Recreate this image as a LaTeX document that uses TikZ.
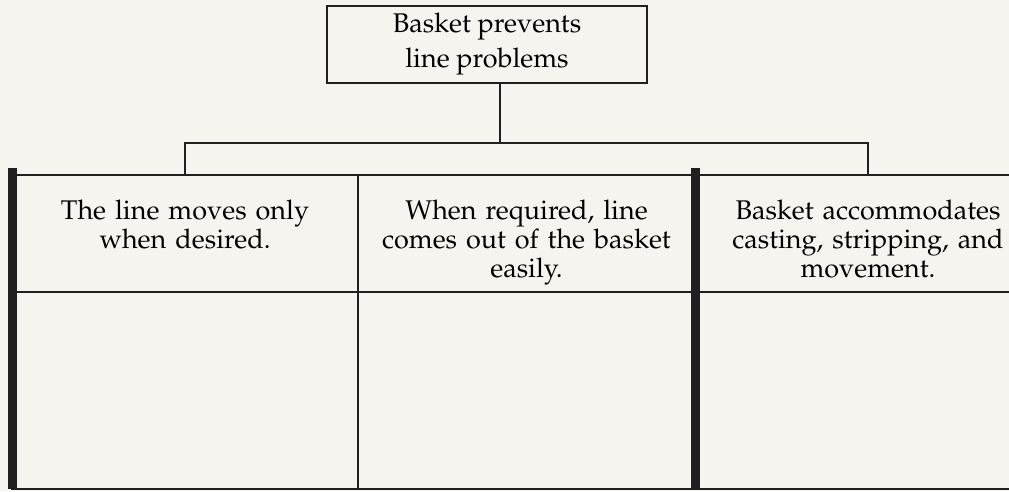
\documentclass[tikz,border=0pt]{standalone}
\usepackage[T1]{fontenc}
\usepackage{mathpazo}
\usetikzlibrary{positioning, calc}
\definecolor{inkgray}{HTML}{231F20}
\definecolor{paper}{HTML}{F5F4EE}
\tikzset{
	goalbox/.style={rectangle, draw=inkgray, line width=2.4pt, minimum width=320pt, minimum height=77pt, inner sep=0pt, align=center, font=\fontsize{27}{35}\selectfont},
	cellbox/.style={rectangle, draw=inkgray, line width=2pt, minimum width=337pt, minimum height=117pt, inner sep=0pt, outer sep=0pt},
	lowbox/.style={cellbox, minimum height=197pt},
	celltext/.style={align=center, inner sep=0pt, text width=330pt, font=\fontsize{27}{29}\selectfont},
	link/.style={draw=inkgray, line width=2.2pt, line join=miter},
	heavy/.style={draw=inkgray, line width=9pt}
}
\begin{document}
\begin{tikzpicture}[x=1pt, y=-1pt]
		\fill[paper] (0,0) rectangle (1009,491);
		\useasboundingbox (0,0) rectangle (1009,491);
		% Objetivo
		\node (goal) [goalbox] at (487,44.5) {Basket prevents\\line problems};
		
		% Tabla
		\node (c1) [cellbox, minimum width=346pt] at (185,233.5) {};
		\node (c2) [cellbox, right=0pt of c1] {};
		\node (c3) [cellbox, minimum width=346pt, right=0pt of c2] {};
		\node (d1) [lowbox, minimum width=346pt, below=0pt of c1] {};
		\node (d2) [lowbox, below=0pt of c2] {};
		\node (d3) [lowbox, minimum width=346pt, below=0pt of c3] {};
		
		% Textos
		\node (t1) [celltext, below=25pt of c1.north] {The line moves only\\when desired.};
		\node (t2) [celltext, below=25pt of c2.north] {When required, line\\comes out of the basket\\easily.};
		\node (t3) [celltext, below=25pt of c3.north] {Basket accommodates\\casting, stripping, and\\movement.};
		
		% Conexiones
		\coordinate (bar) at (500,143);
		\draw [link] (goal.south -| bar) -- (bar);
		\draw [link] (c1.north) |- (bar) -| (c3.north);
		\draw [heavy] ([yshift=7pt]c1.north west) -- (d1.south west);
		\draw [heavy] ([yshift=7pt]c3.north west) -- (d3.south west);
	\end{tikzpicture}
\end{document}
